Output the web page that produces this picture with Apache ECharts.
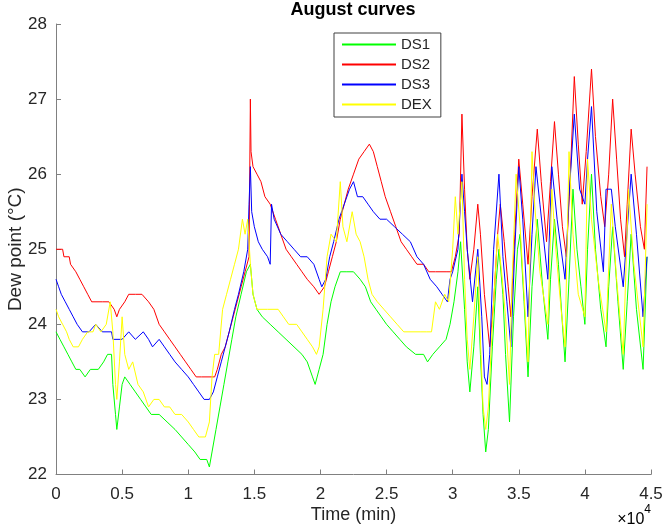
<!DOCTYPE html>
<html>
<head>
<meta charset="utf-8">
<script src="https://cdn.jsdelivr.net/npm/echarts@6/dist/echarts.min.js"></script>
<style>
html,body{margin:0;padding:0;background:#fff;}
#chart{width:666px;height:531px;}
</style>
</head>
<body>
<div id="chart"></div>
<script>
// Time in minutes, dew point in °C
const seriesNames = ['DS1', 'DS2', 'DS3', 'DEX'];
const xTickValues = [0, 5000, 10000, 15000, 20000, 25000, 30000, 35000, 40000, 45000];
const yTickValues = [22, 23, 24, 25, 26, 27, 28];

const ds1 = [[0,23.9],[300,23.8],[600,23.7],[900,23.6],[1200,23.5],[1500,23.4],[1800,23.4],[2200,23.3],[2600,23.4],[3200,23.4],[3600,23.5],[3900,23.6],[4200,23.6],[4300,23.2],[4500,22.8],[4600,22.6],[4800,22.9],[5000,23.2],[5200,23.3],[5600,23.2],[6000,23.1],[6400,23.0],[6800,22.9],[7200,22.8],[7800,22.8],[8400,22.7],[9000,22.6],[9500,22.5],[10000,22.4],[10500,22.3],[10900,22.2],[11400,22.2],[11600,22.1],[11800,22.3],[12100,22.6],[12400,22.9],[12700,23.2],[13000,23.5],[13300,23.8],[13600,24.1],[14000,24.4],[14400,24.7],[14700,24.8],[14900,24.4],[15200,24.2],[15600,24.1],[16200,24.0],[16800,23.9],[17400,23.8],[18000,23.7],[18600,23.6],[19000,23.5],[19400,23.3],[19600,23.2],[19900,23.4],[20200,23.6],[20500,24.0],[20800,24.3],[21100,24.5],[21500,24.7],[22000,24.7],[22500,24.7],[23000,24.6],[23400,24.5],[23800,24.3],[24200,24.2],[24600,24.1],[25000,24.0],[25500,23.9],[26000,23.8],[26500,23.7],[27200,23.6],[27800,23.6],[28100,23.5],[28500,23.6],[29000,23.7],[29500,23.8],[29800,24.0],[30100,24.3],[30400,24.7],[30600,25.1],[30900,24.2],[31100,23.5],[31300,23.1],[31600,23.7],[31900,24.5],[32100,23.6],[32300,22.8],[32500,22.3],[32700,22.6],[33000,23.7],[33300,24.6],[33500,25.0],[33800,24.4],[34000,23.6],[34300,22.7],[34600,24.1],[34900,25.0],[35100,25.2],[35400,24.3],[35700,23.3],[36000,24.5],[36400,25.4],[36800,24.5],[37200,23.8],[37400,24.6],[37700,25.4],[38000,24.8],[38300,24.0],[38500,23.5],[38800,24.6],[39100,25.8],[39400,25.0],[39700,24.5],[40000,24.0],[40200,25.0],[40500,26.0],[40800,25.0],[41200,24.2],[41600,23.7],[41800,24.5],[42100,25.3],[42500,24.3],[42900,23.4],[43200,24.3],[43500,25.2],[43900,24.2],[44400,23.4],[44700,24.9]];

const ds2 = [[0,25.0],[500,25.0],[600,24.9],[1000,24.9],[1100,24.8],[1500,24.7],[1800,24.6],[2100,24.5],[2400,24.4],[2700,24.3],[3500,24.3],[4000,24.3],[4400,24.2],[4600,24.1],[4800,24.2],[5200,24.3],[5500,24.4],[6000,24.4],[6500,24.4],[7000,24.3],[7400,24.2],[7800,24.0],[8200,23.9],[8600,23.8],[9000,23.7],[9400,23.6],[9800,23.5],[10200,23.4],[10600,23.3],[11000,23.3],[12000,23.3],[12200,23.4],[12500,23.6],[12800,23.7],[13100,23.9],[13400,24.1],[13700,24.3],[14000,24.5],[14300,24.7],[14600,24.9],[14700,27.0],[14750,26.3],[14900,26.1],[15200,26.0],[15500,25.9],[15800,25.7],[16200,25.6],[16600,25.4],[17000,25.2],[17400,25.0],[17800,24.9],[18200,24.8],[18600,24.7],[19000,24.6],[19500,24.5],[19900,24.4],[20300,24.5],[20600,24.7],[20900,24.9],[21200,25.1],[21500,25.4],[21800,25.6],[22100,25.8],[22500,26.0],[22900,26.2],[23300,26.3],[23700,26.4],[24000,26.3],[24300,26.1],[24600,25.9],[24900,25.7],[25300,25.5],[25700,25.3],[26100,25.1],[26500,25.0],[26900,24.9],[27300,24.8],[27800,24.8],[28200,24.7],[28700,24.7],[29500,24.7],[29900,24.7],[30200,24.9],[30500,25.2],[30700,26.8],[30900,25.8],[31100,25.0],[31300,24.6],[31600,25.0],[31900,25.6],[32100,25.2],[32400,24.4],[32800,23.7],[33100,24.3],[33400,25.2],[33600,25.6],[33900,25.1],[34200,24.5],[34400,24.1],[34700,25.2],[35000,26.2],[35300,25.6],[35700,24.8],[36000,25.7],[36400,26.6],[36700,25.9],[37100,25.1],[37400,25.9],[37700,26.7],[38000,26.0],[38300,25.3],[38600,24.9],[38900,26.0],[39200,27.3],[39500,26.4],[39800,25.6],[40100,26.3],[40500,27.4],[40800,26.5],[41200,25.7],[41500,25.3],[41800,26.0],[42100,27.0],[42400,26.2],[42700,25.4],[43000,24.9],[43200,25.6],[43500,26.6],[43800,26.0],[44200,25.3],[44500,25.0],[44700,26.1]];

const ds3 = [[0,24.6],[200,24.5],[400,24.4],[700,24.3],[1000,24.2],[1300,24.1],[1600,24.0],[2000,23.9],[2500,23.9],[3000,24.0],[3500,23.9],[4200,23.9],[4300,23.8],[5000,23.8],[5500,23.9],[6000,23.8],[6600,23.9],[7000,23.8],[7300,23.7],[7800,23.8],[8200,23.7],[8600,23.6],[9000,23.5],[9500,23.4],[10000,23.3],[10400,23.2],[10800,23.1],[11200,23.0],[11600,23.0],[11900,23.1],[12200,23.3],[12500,23.5],[12800,23.7],[13100,23.9],[13500,24.2],[13800,24.4],[14200,24.7],[14500,25.0],[14600,25.6],[14700,26.1],[14800,25.5],[15000,25.3],[15300,25.1],[15600,25.0],[16000,24.9],[16200,24.8],[16300,25.6],[16500,25.4],[17000,25.2],[17500,25.1],[18000,25.0],[18500,24.9],[19000,24.9],[19500,24.8],[19900,24.6],[20100,24.5],[20400,24.6],[20700,24.9],[21000,25.1],[21400,25.4],[21800,25.6],[22200,25.8],[22500,25.9],[22800,25.7],[23200,25.7],[23600,25.6],[24000,25.5],[24500,25.4],[25000,25.4],[25600,25.3],[26200,25.2],[26800,25.1],[27300,24.9],[27800,24.8],[28300,24.6],[28800,24.5],[29200,24.4],[29600,24.3],[29800,24.6],[30000,24.7],[30400,25.0],[30700,26.0],[30900,25.5],[31100,25.0],[31500,24.3],[31900,25.0],[32200,24.1],[32400,23.3],[32600,23.2],[32800,23.6],[33100,25.0],[33500,26.0],[33800,24.9],[34100,24.3],[34400,23.7],[34700,25.0],[35000,26.1],[35300,25.4],[35700,24.1],[36000,25.2],[36300,26.1],[36600,25.6],[37200,24.6],[37500,26.1],[37900,25.4],[38500,24.6],[38800,25.7],[39200,26.8],[39600,25.8],[40000,25.6],[40200,26.2],[40500,26.9],[40900,25.5],[41400,24.7],[41600,25.8],[42000,25.8],[42300,25.3],[42900,24.5],[43500,26.0],[43900,25.2],[44400,24.1],[44700,24.9]];

const dex = [[0,24.2],[200,24.1],[500,24.0],[800,23.9],[1000,23.8],[1300,23.7],[1700,23.7],[2000,23.8],[2400,23.9],[2800,23.9],[3000,24.0],[3400,23.9],[3800,24.0],[4100,24.3],[4300,23.9],[4500,23.2],[4600,23.0],[4800,23.5],[5000,24.1],[5200,23.6],[5500,23.4],[5800,23.5],[6200,23.2],[6600,23.1],[7000,22.9],[7400,23.0],[7800,23.0],[8200,22.9],[8600,22.9],[9000,22.8],[9500,22.8],[10000,22.7],[10400,22.6],[10800,22.5],[11300,22.5],[11600,22.7],[11800,23.3],[12000,23.6],[12300,23.6],[12600,24.2],[12900,24.4],[13200,24.6],[13500,24.8],[13800,25.0],[14100,25.4],[14300,25.2],[14500,25.4],[14700,24.8],[14900,24.4],[15200,24.2],[16000,24.2],[16800,24.2],[17200,24.1],[17600,24.0],[18200,24.0],[18600,23.9],[19000,23.8],[19400,23.7],[19700,23.6],[19900,23.7],[20200,24.2],[20500,24.9],[20800,25.2],[21200,25.1],[21500,25.9],[21700,25.3],[22000,25.1],[22400,25.5],[22700,25.2],[23000,25.1],[23300,24.9],[23600,24.6],[23900,24.4],[24300,24.3],[24800,24.2],[25300,24.1],[25800,24.0],[26300,23.9],[27000,23.9],[27600,23.9],[28000,23.9],[28400,23.9],[28700,24.3],[29000,24.2],[29400,24.4],[29700,24.3],[30000,25.0],[30200,25.7],[30400,25.2],[30700,25.9],[30900,24.6],[31100,23.8],[31300,23.4],[31600,24.1],[31900,24.9],[32100,23.8],[32300,22.9],[32500,22.6],[32700,22.9],[33000,24.0],[33200,24.6],[33400,25.2],[33700,24.7],[34000,24.1],[34300,23.2],[34500,24.6],[34800,26.0],[35100,25.3],[35400,24.4],[35700,23.5],[36000,26.3],[36200,25.6],[36600,24.7],[37200,24.0],[37500,25.8],[37800,25.0],[38200,24.2],[38500,23.7],[38800,26.3],[39100,25.2],[39500,24.4],[40000,24.1],[40200,26.2],[40500,25.4],[41000,24.6],[41600,23.9],[42000,25.6],[42400,24.6],[42900,23.6],[43300,25.8],[43700,24.8],[44400,23.7],[44700,25.6]];

const seriesData = [ds1, ds2, ds3, dex];
const seriesColors = ['#00ff00', '#ff0000', '#0000ff', '#ffff00'];

const chart = echarts.init(document.getElementById('chart'), null, {renderer: 'canvas'});
const axisGray = '#808080';
const textColor = '#262626';
const fontFamily = 'Arial, "Liberation Sans", Helvetica, sans-serif';

chart.setOption({
  animation: false,
  backgroundColor: '#ffffff',
  title: {
    text: 'August curves',
    left: 353, top: 0, padding: 0,
    textAlign: 'center',
    textStyle: {fontFamily: fontFamily, fontWeight: 'bold', fontSize: 18, lineHeight: 20, color: '#000'}
  },
  legend: {
    orient: 'vertical',
    left: 334, top: 33,
    padding: [4, 9, 5, 7],
    itemWidth: 54, itemHeight: 14, itemGap: 5,
    backgroundColor: '#ffffff',
    borderColor: '#404040', borderWidth: 1,
    itemStyle: {opacity: 0},
    textStyle: {fontFamily: fontFamily, fontSize: 15, color: textColor},
    data: seriesNames
  },
  grid: {left: 56, right: 15, top: 24, bottom: 56.5, containLabel: false, outerBoundsMode: 'none'},
  xAxis: {
    type: 'value', min: 0, max: 45000, interval: 5000,
    name: 'Time (min)', nameLocation: 'middle', nameGap: 32, nameMoveOverlap: false,
    nameTextStyle: {fontFamily: fontFamily, fontSize: 18, color: textColor},
    axisLine: {show: true, lineStyle: {color: axisGray, width: 1}},
    axisTick: {show: true, inside: true, length: 5, lineStyle: {color: axisGray}},
    axisLabel: {
      fontFamily: fontFamily, fontSize: 17, color: textColor, margin: 11,
      formatter: function (v) { return xTickValues.indexOf(v) >= 0 ? String(v / 10000) : ''; }
    },
    splitLine: {show: false}
  },
  yAxis: {
    type: 'value', min: 22, max: 28, interval: 1,
    name: 'Dew point (°C)', nameLocation: 'middle', nameGap: 31, nameMoveOverlap: false,
    nameTextStyle: {fontFamily: fontFamily, fontSize: 19, color: textColor},
    axisLine: {show: true, lineStyle: {color: axisGray, width: 1}},
    axisTick: {show: true, inside: true, length: 5, lineStyle: {color: axisGray}},
    axisLabel: {
      fontFamily: fontFamily, fontSize: 17, color: textColor, margin: 9,
      formatter: function (v) { return yTickValues.indexOf(v) >= 0 ? String(v) : ''; }
    },
    splitLine: {show: false}
  },
  graphic: [{
    type: 'text',
    right: 15, top: 504,
    style: {
      text: '{a|×10}{b|4}',
      rich: {
        a: {fontFamily: fontFamily, fontSize: 16, color: textColor, verticalAlign: 'bottom', lineHeight: 24},
        b: {fontFamily: fontFamily, fontSize: 12, color: textColor, verticalAlign: 'top', lineHeight: 24, padding: [0, 0, 10, 0]}
      }
    }
  }],
  series: seriesNames.map(function (name, i) {
    return {
      name: name, type: 'line', data: seriesData[i],
      showSymbol: false, symbol: 'none',
      lineStyle: {color: seriesColors[i], width: 1},
      itemStyle: {color: seriesColors[i]},
      emphasis: {disabled: true}
    };
  })
});
</script>
</body>
</html>
